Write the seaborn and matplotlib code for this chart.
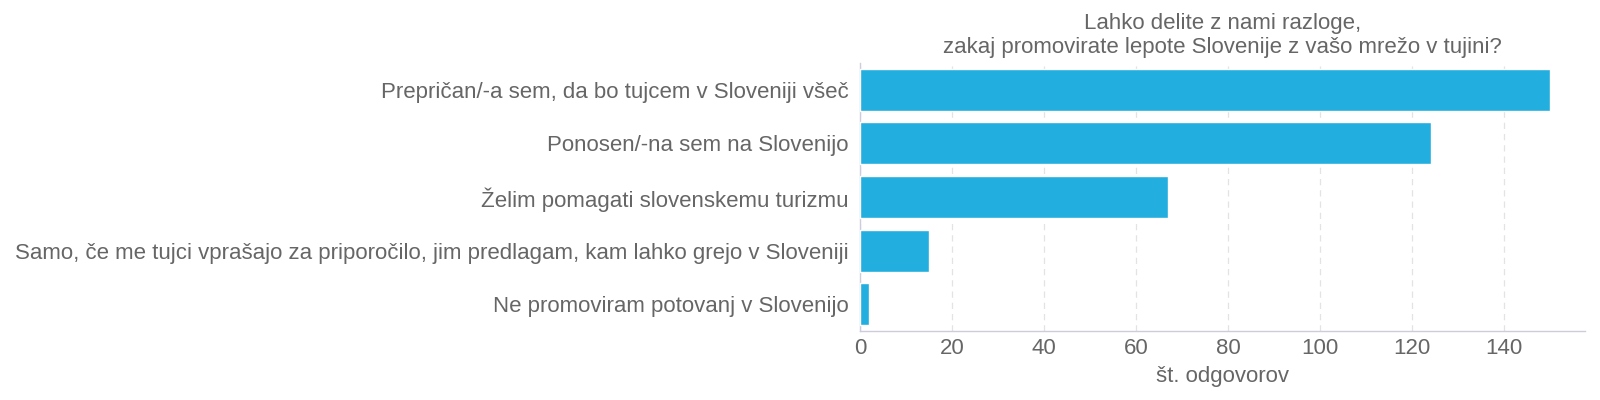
import matplotlib
matplotlib.use('Agg')
import matplotlib.pyplot as plt
import seaborn as sns
import pandas as pd

# podatki
razlogi = [
    'Prepričan/-a sem, da bo tujcem v Sloveniji všeč',
    'Ponosen/-na sem na Slovenijo',
    'Želim pomagati slovenskemu turizmu',
    'Samo, če me tujci vprašajo za priporočilo, jim predlagam, kam lahko grejo v Sloveniji',
    'Ne promoviram potovanj v Slovenijo',
]
odgovori = [150, 124, 67, 15, 2]
x_ticks = [0, 20, 40, 60, 80, 100, 120, 140]

df = pd.DataFrame({'razlog': razlogi, 'odgovori': odgovori})

sns.set_style('white')
plt.rcParams['font.family'] = ['Liberation Sans', 'DejaVu Sans']

text_color = '#666666'
bar_color = '#22AEDF'

fig, ax = plt.subplots(figsize=(16, 4), dpi=100)
fig.subplots_adjust(left=0.5375, right=0.9905, top=0.8425, bottom=0.1725)

sns.barplot(data=df, x='odgovori', y='razlog', color=bar_color, width=0.78,
            saturation=1, ax=ax, zorder=3)

ax.set_xlim(0, 157.5)
ax.set_xticks(x_ticks)
ax.xaxis.grid(True, linestyle=(0, (5, 4)), color='#e3e3e3', linewidth=0.9, zorder=0)
ax.yaxis.grid(False)

for s in ['top', 'right']:
    ax.spines[s].set_visible(False)
for s in ['left', 'bottom']:
    ax.spines[s].set_color('#ccccdd')
    ax.spines[s].set_linewidth(1)

ax.tick_params(axis='x', colors=text_color, labelsize=16, length=0, pad=5)
ax.tick_params(axis='y', colors=text_color, labelsize=16, length=0, pad=8)
ax.set_ylabel('')
ax.set_xlabel('št. odgovorov', fontsize=16, color=text_color, labelpad=5)
ax.set_title('Lahko delite z nami razloge,\nzakaj promovirate lepote Slovenije z vašo mrežo v tujini?',
             fontsize=16, color=text_color, pad=7, linespacing=1.2)

plt.savefig('out.png', dpi=100)
plt.close()
